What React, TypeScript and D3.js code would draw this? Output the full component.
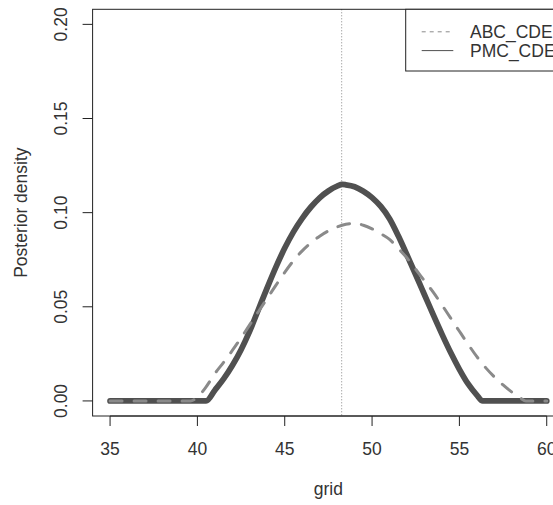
import React from "react";
import * as d3 from "d3";

const pmcX = [35, 40, 40.5, 41, 41.5, 42, 42.5, 43, 43.5, 44, 44.5, 45, 45.5, 46, 46.5, 47, 47.5, 48, 48.3, 48.5, 49, 49.5, 50, 50.5, 51, 51.5, 52, 52.5, 53, 53.5, 54, 54.5, 55, 55.5, 56, 56.33, 60];
const pmcY = [0, 0, 0, 0.0057, 0.0117, 0.0188, 0.0272, 0.0372, 0.0487, 0.0602, 0.0712, 0.0812, 0.0898, 0.097, 0.103, 0.1079, 0.1115, 0.1141, 0.115, 0.1148, 0.1138, 0.1114, 0.108, 0.1033, 0.0968, 0.0877, 0.0775, 0.067, 0.0564, 0.0458, 0.0355, 0.0257, 0.0168, 0.009, 0.0031, 0, 0];

const abcX = [35, 39.6, 40, 40.5, 41, 41.5, 42, 42.5, 43, 43.5, 44, 44.5, 45, 45.5, 46, 46.5, 47, 47.5, 48, 48.5, 49, 49.5, 50, 50.5, 51, 51.5, 52, 52.5, 53, 53.5, 54, 54.5, 55, 55.5, 56, 56.5, 57, 57.5, 58, 58.5, 58.8, 60];
const abcY = [0, 0, 0.002, 0.0075, 0.0145, 0.0205, 0.0268, 0.0335, 0.0405, 0.0475, 0.0545, 0.0615, 0.0683, 0.0745, 0.0797, 0.084, 0.0875, 0.0903, 0.0924, 0.0938, 0.0943, 0.0933, 0.0914, 0.0888, 0.0858, 0.081, 0.0759, 0.0699, 0.0638, 0.0578, 0.051, 0.044, 0.037, 0.0301, 0.0235, 0.0177, 0.0128, 0.0085, 0.0047, 0.0015, 0, 0];

const xTicks = [35, 40, 45, 50, 55, 60];
const yTicks = [0, 0.05, 0.1, 0.15, 0.2];
const yTickLabels = ["0.00", "0.05", "0.10", "0.15", "0.20"];
const vLineX = 48.26;
const legendLabels = ["ABC_CDE", "PMC_CDE"];

const W = 553;
const H = 505;
const left = 92.6;
const right = 564.2;
const top = 9.3;
const bottom = 416;
const font = "'Liberation Sans', Arial, sans-serif";
const fs = 17.5;

export default function App() {
  const x = d3.scaleLinear().domain([34, 61]).range([left, right]);
  const y = d3.scaleLinear().domain([-0.008, 0.208]).range([bottom, top]);
  const line = d3
    .line<[number, number]>()
    .x((d) => x(d[0]))
    .y((d) => y(d[1]))
    .curve(d3.curveMonotoneX);
  const pmc = line(pmcX.map((v, i) => [v, pmcY[i]] as [number, number])) || "";
  const abc = line(abcX.map((v, i) => [v, abcY[i]] as [number, number])) || "";

  const legL = 405.7;
  const legB = 71;
  const legRows = [31.8, 50.6];

  return (
    <svg
      width={W}
      height={H}
      style={{ position: "absolute", left: 0, top: 0, background: "#fff" }}
      fontFamily={font}
    >
      <rect x={0} y={0} width={W} height={H} fill="#fff" />
      <line x1={x(vLineX)} x2={x(vLineX)} y1={top} y2={bottom} stroke="#858585" strokeWidth={1} strokeDasharray="1 2" />
      <path d={pmc} fill="none" stroke="#505050" strokeWidth={5.8} strokeLinecap="round" strokeLinejoin="round" />
      <path d={abc} fill="none" stroke="#8a8a8a" strokeWidth={3} strokeDasharray="12 12" strokeLinecap="round" strokeLinejoin="round" />
      <rect x={left} y={top} width={right - left} height={bottom - top} fill="none" stroke="#222" strokeWidth={1} />
      <line x1={x(xTicks[0])} x2={x(xTicks[xTicks.length - 1])} y1={bottom} y2={bottom} stroke="#222" />
      {xTicks.map((t) => (
        <g key={"xt" + t}>
          <line x1={x(t)} x2={x(t)} y1={bottom} y2={bottom + 10} stroke="#222" />
          <text x={x(t)} y={454.5} textAnchor="middle" fontSize={fs} fill="#333">
            {t}
          </text>
        </g>
      ))}
      {yTicks.map((t, i) => (
        <g key={"yt" + t}>
          <line x1={left} x2={left - 10} y1={y(t)} y2={y(t)} stroke="#222" />
          <text
            transform={`translate(67.3, ${y(t)}) rotate(-90)`}
            textAnchor="middle"
            fontSize={fs}
            fill="#333"
          >
            {yTickLabels[i]}
          </text>
        </g>
      ))}
      <text x={(left + right) / 2} y={494.5} textAnchor="middle" fontSize={fs} fill="#333">
        grid
      </text>
      <text
        transform={`translate(26.7, ${(top + bottom) / 2}) rotate(-90)`}
        textAnchor="middle"
        fontSize={fs}
        fill="#333"
      >
        Posterior density
      </text>
      <rect x={legL} y={top} width={right - legL} height={legB - top} fill="#fff" stroke="#222" strokeWidth={1} />
      <line x1={421.7} x2={453.3} y1={legRows[0]} y2={legRows[0]} stroke="#8a8a8a" strokeWidth={1} strokeDasharray="4 4" />
      <line x1={421.7} x2={453.3} y1={legRows[1]} y2={legRows[1]} stroke="#505050" strokeWidth={1} />
      {legendLabels.map((l, i) => (
        <text key={l} x={470} y={legRows[i]} dominantBaseline="central" fontSize={fs} fill="#333">
          {l}
        </text>
      ))}
    </svg>
  );
}
